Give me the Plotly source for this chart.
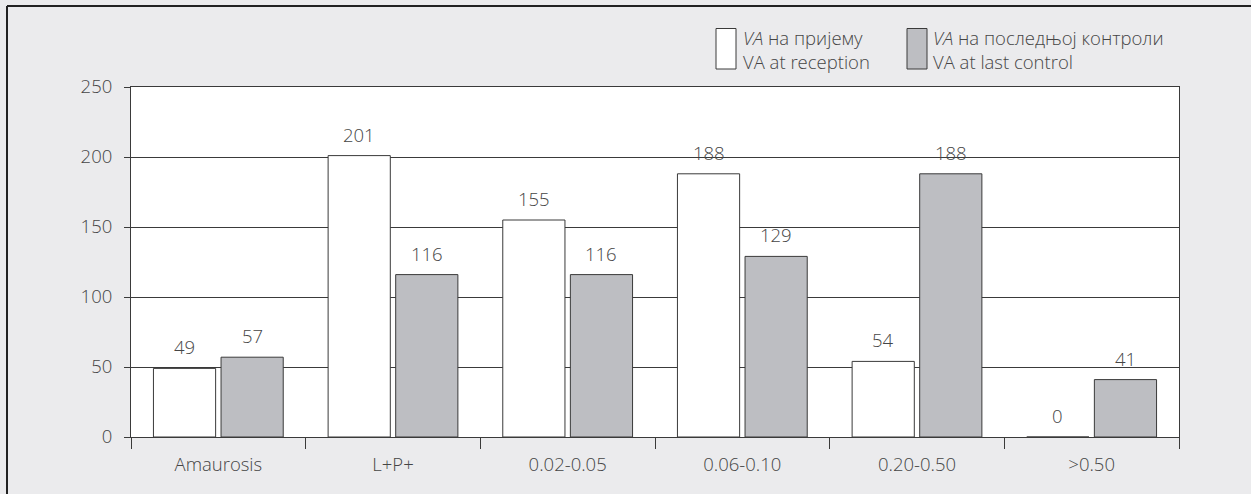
import plotly.graph_objects as go

categories = ["Amaurosis", "L+P+", "0.02-0.05", "0.06-0.10", "0.20-0.50", ">0.50"]
va_reception = [49, 201, 155, 188, 54, 0]
va_last_control = [57, 116, 116, 129, 188, 41]
y_ticks = [0, 50, 100, 150, 200, 250]

series_names = ["<i>VA</i> на пријему<br>VA at reception",
                "<i>VA</i> на последњој контроли<br>VA at last control"]

FONT = "Open Sans"
TXT = "#454545"
LINE = "#3a3a3a"
GRAY = "#bdbec2"
BG = "#ebebed"
FS = 18.5

W, H = 1251, 494
L, R, T, B = 131, 72, 87, 57
pw, ph = W - L - R, H - T - B
BARGAP, GROUPGAP = 0.226, 0.08

def px(x):
    return (x - L) / pw

def py(y):
    return (H - B - y) / ph

def tfont():
    return dict(family=FONT, size=FS, color=TXT, weight=300)

fig = go.Figure()
fig.add_trace(go.Bar(
    x=categories, y=va_reception, name=series_names[0],
    marker=dict(color="white", line=dict(color=LINE, width=1)),
))
fig.add_trace(go.Bar(
    x=categories, y=va_last_control, name=series_names[1],
    marker=dict(color=GRAY, line=dict(color=LINE, width=1)),
))

# value labels above the bars (positioned from data values)
slot = (1 - BARGAP) / 2
annotations = []
for series, off in ((va_reception, -slot / 2), (va_last_control, slot / 2)):
    for i, v in enumerate(series):
        annotations.append(dict(
            x=i + off, y=v, xref="x", yref="y", text=str(v), showarrow=False,
            xanchor="center", yanchor="bottom", yshift=7, font=tfont()))

shapes = []
# outer frame (left and top edges)
shapes.append(dict(type="line", xref="paper", yref="paper",
                   x0=px(7), x1=px(7), y0=py(494), y1=py(6),
                   line=dict(color="#222", width=2)))
shapes.append(dict(type="line", xref="paper", yref="paper",
                   x0=px(7), x1=px(1251), y0=py(6), y1=py(6),
                   line=dict(color="#222", width=2)))
# legend swatches
shapes.append(dict(type="rect", xref="paper", yref="paper",
                   x0=px(716), x1=px(736), y0=py(69), y1=py(28.5),
                   fillcolor="white", line=dict(color=LINE, width=1)))
shapes.append(dict(type="rect", xref="paper", yref="paper",
                   x0=px(907), x1=px(927), y0=py(69), y1=py(28.5),
                   fillcolor=GRAY, line=dict(color=LINE, width=1)))

annotations += [
    dict(xref="paper", yref="paper", x=px(741), y=py(49), xanchor="left", yanchor="middle",
         text=series_names[0], showarrow=False, align="left", font=tfont()),
    dict(xref="paper", yref="paper", x=px(931), y=py(49), xanchor="left", yanchor="middle",
         text=series_names[1], showarrow=False, align="left", font=tfont()),
]

fig.update_layout(
    width=W, height=H,
    margin=dict(l=L, r=R, t=T, b=B),
    paper_bgcolor=BG, plot_bgcolor="white",
    barmode="group", bargap=BARGAP, bargroupgap=GROUPGAP,
    showlegend=False,
    shapes=shapes, annotations=annotations,
    font=tfont(),
)
fig.update_xaxes(
    type="category", tickson="boundaries", ticks="outside", ticklen=11,
    tickcolor=LINE, tickwidth=1, showline=True, linecolor=LINE, linewidth=1,
    mirror=True, showgrid=False, tickfont=tfont(), ticklabelstandoff=11,
)
fig.update_yaxes(
    range=[0, 250], tickvals=y_ticks, ticks="outside", ticklen=6,
    tickcolor=LINE, tickwidth=1, showline=True, linecolor=LINE, linewidth=1,
    mirror=True, showgrid=True, gridcolor=LINE, gridwidth=1,
    zeroline=False, tickfont=tfont(), ticklabelstandoff=8,
)

fig.write_html("out.html")
